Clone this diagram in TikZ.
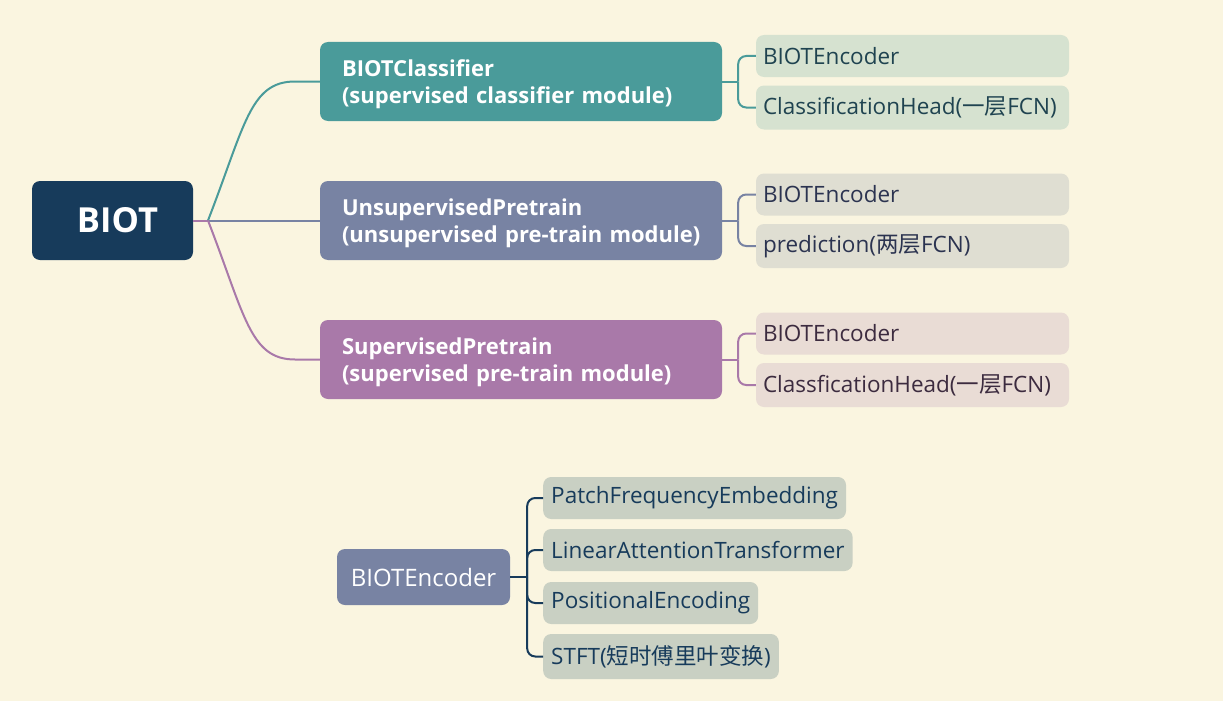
\documentclass[tikz,border=0pt]{standalone}
\usepackage{fontspec}
\setmainfont{Open Sans}[Ligatures=NoCommon]
\newfontfamily\cjk{Noto Sans CJK SC}
\usetikzlibrary{positioning}

\definecolor{bgcream}{HTML}{FAF5E0}
\definecolor{biotnavy}{HTML}{173B5B}
\definecolor{clsteal}{HTML}{4A9B9A}
\definecolor{unsupslate}{HTML}{7883A3}
\definecolor{suppurple}{HTML}{A979A9}
\definecolor{clsleaf}{HTML}{D6E2D0}
\definecolor{unsupleaf}{HTML}{DFDED2}
\definecolor{supleaf}{HTML}{E9DCD5}
\definecolor{partleaf}{HTML}{C9D0C3}
\definecolor{clstext}{HTML}{1F4350}
\definecolor{unsuptext}{HTML}{2B3350}
\definecolor{suptext}{HTML}{3C2B3F}

\begin{document}
\begin{tikzpicture}[
  x=1pt, y=-1pt,
  every node/.style={rounded corners=8pt, inner sep=0pt},
  root/.style={fill=biotnavy, text=white, minimum width=161pt, minimum height=79pt, font=\fontsize{34.5}{40}\selectfont\bfseries},
  branch/.style={text=white, minimum width=402pt, minimum height=79pt, text width=358pt, align=left, font=\fontsize{22}{27}\selectfont\bfseries},
  leaf/.style={minimum width=313pt, minimum height=42pt, text width=299pt, align=left, font=\fontsize{22.5}{26}\selectfont},
  part/.style={fill=partleaf, text=biotnavy, anchor=west, inner xsep=8pt, minimum height=42pt, font=\fontsize{22.5}{26}\selectfont},
  link/.style={line width=2pt},
  bracket/.style={line width=2pt, rounded corners=8pt}
]

% background
\fill[bgcream] (0,0) rectangle (1223,701);

% root
\node[root] (BIOT) at (112.5,220.5) {\hspace*{10pt}BIOT};

% three modules
\node[branch, fill=clsteal] (cls) at (521,81.5) {\rule{0pt}{23pt}BIOTClassifier\\\mbox{(supervised classifier module)}};
\node[branch, fill=unsupslate] (unsup) at (521,220.5) {\rule{0pt}{23pt}UnsupervisedPretrain\\\mbox{(unsupervised pre-train module)}};
\node[branch, fill=suppurple] (sup) at (521,359.5) {\rule{0pt}{23pt}SupervisedPretrain\\\mbox{(supervised pre-train module)}};

% leaves of each module
\node[leaf, fill=clsleaf, text=clstext] (clsEnc) at (912.5,56) {BIOTEncoder};
\node[leaf, fill=clsleaf, text=clstext, minimum height=44pt] (clsHead) at (912.5,107.5) {ClassificationHead({\cjk 一层}FCN)};
\node[leaf, fill=unsupleaf, text=unsuptext] (unsupEnc) at (912.5,194.5) {BIOTEncoder};
\node[leaf, fill=unsupleaf, text=unsuptext, minimum height=44pt] (unsupPred) at (912.5,246) {prediction({\cjk 两层}FCN)};
\node[leaf, fill=supleaf, text=suptext] (supEnc) at (912.5,333.5) {BIOTEncoder};
\node[leaf, fill=supleaf, text=suptext, minimum height=44pt] (supHead) at (912.5,385) {ClassficationHead({\cjk 一层}FCN)};

% encoder breakdown
\node[root, fill=unsupslate, minimum width=173pt, minimum height=56pt, font=\fontsize{24}{28}\selectfont] (enc) at (423.5,577) {BIOTEncoder};
\node[part] (patch) at (543,498) {PatchFrequencyEmbedding};
\node[part] (attn) at (543,550) {LinearAttentionTransformer};
\node[part] (pos) at (543,603) {PositionalEncoding};
\node[part, minimum height=45pt] (stft) at (543,656.5) {STFT({\cjk 短时傅里叶变换})};

% root to modules
\coordinate (hub) at (208,220.5);
\draw[link, suppurple] (BIOT.east) -- (hub);
\draw[link, clsteal] (hub) .. controls (245,125) and (250,81.5) .. (295,81.5) -- (cls.west);
\draw[link, unsupslate] (hub) -- (unsup.west);
\draw[link, suppurple] (hub) .. controls (245,316) and (250,359.5) .. (295,359.5) -- (sup.west);

% modules to leaves
\coordinate (clsJ) at ([xshift=16pt]cls.east);
\draw[link, clsteal] (cls.east) -- (clsJ);
\draw[bracket, clsteal] (clsJ) |- (clsEnc.west);
\draw[bracket, clsteal] (clsJ) |- (clsHead.west);

\coordinate (unsupJ) at ([xshift=16pt]unsup.east);
\draw[link, unsupslate] (unsup.east) -- (unsupJ);
\draw[bracket, unsupslate] (unsupJ) |- (unsupEnc.west);
\draw[bracket, unsupslate] (unsupJ) |- (unsupPred.west);

\coordinate (supJ) at ([xshift=16pt]sup.east);
\draw[link, suppurple] (sup.east) -- (supJ);
\draw[bracket, suppurple] (supJ) |- (supEnc.west);
\draw[bracket, suppurple] (supJ) |- (supHead.west);

% encoder to parts
\coordinate (encJ) at ([xshift=17pt]enc.east);
\draw[link, biotnavy] (enc.east) -- (encJ);
\draw[bracket, biotnavy] (encJ) |- (patch.west);
\draw[bracket, biotnavy] (encJ) |- (attn.west);
\draw[bracket, biotnavy] (encJ) |- (pos.west);
\draw[bracket, biotnavy] (encJ) |- (stft.west);

\end{tikzpicture}
\end{document}
